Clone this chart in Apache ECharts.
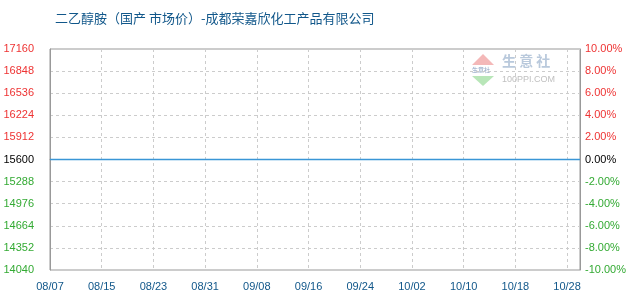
<!DOCTYPE html>
<html><head><meta charset="utf-8">
<script src="https://cdn.jsdelivr.net/npm/echarts@6/dist/echarts.min.js"></script>
<style>html,body{margin:0;padding:0;background:#fff}#c{width:630px;height:300px}</style>
</head><body><div id="c"></div>
<script>
const titleText = '二乙醇胺（国产 市场价）-成都荣嘉欣化工产品有限公司';
const dates = [
 '08/07','08/08','08/09','08/10','08/11','08/12','08/13','08/14','08/15','08/16','08/17','08/18','08/19','08/20','08/21','08/22','08/23','08/24','08/25','08/26','08/27','08/28','08/29','08/30','08/31',
 '09/01','09/02','09/03','09/04','09/05','09/06','09/07','09/08','09/09','09/10','09/11','09/12','09/13','09/14','09/15','09/16','09/17','09/18','09/19','09/20','09/21','09/22','09/23','09/24','09/25','09/26','09/27','09/28','09/29','09/30',
 '10/01','10/02','10/03','10/04','10/05','10/06','10/07','10/08','10/09','10/10','10/11','10/12','10/13','10/14','10/15','10/16','10/17','10/18',
 '10/19','10/22','10/23','10/24','10/25','10/26','10/27','10/28','10/29','10/30'
];
const prices = [
 15600,15600,15600,15600,15600,15600,15600,15600,15600,15600,15600,15600,15600,15600,15600,15600,15600,15600,15600,15600,15600,15600,15600,15600,15600,
 15600,15600,15600,15600,15600,15600,15600,15600,15600,15600,15600,15600,15600,15600,15600,15600,15600,15600,15600,15600,15600,15600,15600,15600,15600,15600,15600,15600,15600,15600,
 15600,15600,15600,15600,15600,15600,15600,15600,15600,15600,15600,15600,15600,15600,15600,15600,15600,15600,
 15600,15600,15600,15600,15600,15600,15600,15600,15600,15600
];
const basePrice = 15600;
const leftMin = 14040, leftMax = 17160, leftStep = 312;
const rightMin = -10, rightMax = 10, rightStep = 2;

const RED = '#ee3333', GREEN = '#33aa33', BLACK = '#000000';
const chart = echarts.init(document.getElementById('c'), null, {renderer: 'canvas'});
chart.setOption({
  animation: false,
  backgroundColor: '#fff',
  title: {
    text: titleText, left: 50, top: 7,
    textStyle: {fontFamily: 'Noto Sans CJK SC', fontSize: 13, fontWeight: 'normal', color: '#11578a'}
  },
  grid: {left: 50, right: 50, top: 49, bottom: 30, show: true, borderColor: '#999', borderWidth: 1},
  xAxis: {
    type: 'category', data: dates, boundaryGap: false,
    axisLine: {lineStyle: {color: '#999'}},
    axisTick: {show: false},
    axisLabel: {interval: 7, margin: 11, color: '#11578a', fontFamily: 'Liberation Sans', fontSize: 11},
    splitLine: {show: true, interval: 7, lineStyle: {color: '#ccc', type: [3, 3]}}
  },
  yAxis: [{
    type: 'value', min: leftMin, max: leftMax, interval: leftStep, position: 'left',
    axisLine: {show: true, lineStyle: {color: '#999'}},
    axisTick: {show: false},
    axisLabel: {margin: 16, fontFamily: 'Liberation Sans', fontSize: 11,
      formatter: v => String(v),
      color: v => { const n = parseFloat(v); return n > basePrice ? RED : (n < basePrice ? GREEN : BLACK); }},
    splitLine: {show: true, lineStyle: {color: '#ccc', type: [3, 3]}}
  }, {
    type: 'value', min: rightMin, max: rightMax, interval: rightStep, position: 'right',
    axisLine: {show: true, lineStyle: {color: '#999'}},
    axisTick: {show: false},
    axisLabel: {margin: 5, fontFamily: 'Liberation Sans', fontSize: 11,
      formatter: v => v.toFixed(2) + '%',
      color: v => { const n = parseFloat(v); return n > 0 ? RED : (n < 0 ? GREEN : BLACK); }},
    splitLine: {show: false}
  }],
  graphic: [
    {type: 'polygon', shape: {points: [[483, 54], [472, 65], [494, 65]]}, style: {fill: '#f4b8b8'}},
    {type: 'text', left: 472, top: 67, style: {text: '生意社', fontSize: 6, fill: '#8aa0c0', fontFamily: 'Noto Sans CJK SC'}},
    {type: 'polygon', shape: {points: [[472, 76], [494, 76], [483, 86]]}, style: {fill: '#b8e6b8'}},
    {type: 'text', left: 502, top: 54, style: {text: '生 意 社', fontSize: 14, fill: '#b9c9dc', fontFamily: 'Noto Sans CJK SC', fontWeight: 'bold'}},
    {type: 'text', left: 502, top: 75, style: {text: '100PPI.COM', fontSize: 9, fill: '#c0c0c0', fontFamily: 'Liberation Sans'}}
  ],
  series: [{
    type: 'line', data: prices, yAxisIndex: 0, showSymbol: false, symbol: 'none',
    lineStyle: {color: '#3a96d6', width: 1.5}, itemStyle: {color: '#3a96d6'}
  }]
});
</script>
</body></html>
